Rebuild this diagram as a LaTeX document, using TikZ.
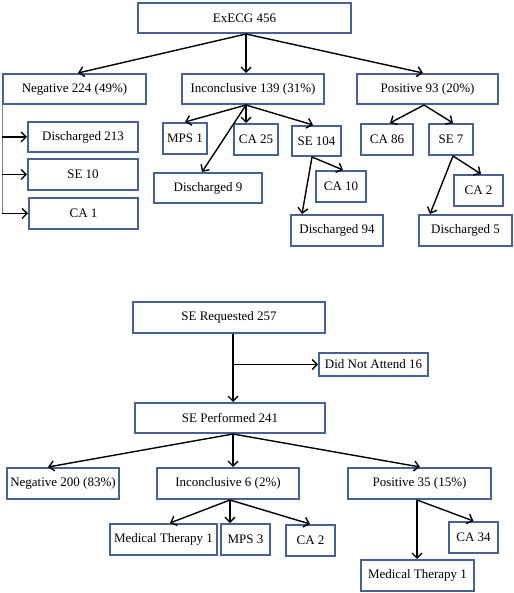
\documentclass[tikz,border=0pt]{standalone}
\usepackage{fontspec}
\setmainfont{Liberation Serif}
\usetikzlibrary{arrows.meta}
\definecolor{boxc}{RGB}{72,96,150}
\tikzset{
  box/.style={draw=boxc, line width=2pt, fill=white, inner sep=0pt,
    font=\fontsize{13}{15}\selectfont},
  arr/.style={draw=black, line width=1.4pt, -{Straight Barb[length=5pt,width=10pt]}},
  vline/.style={draw=gray, line width=0.9pt}
}
\begin{document}
\begin{tikzpicture}[x=1pt,y=-1pt]
\useasboundingbox (0,0) rectangle (513,593);
% ---------- top tree ----------
\node[box, minimum width=213pt, minimum height=30pt] (exe) at (244.5,18) {ExECG 456};
\node[box, minimum width=143pt, minimum height=30pt] (neg) at (74.5,89) {Negative 224 (49\%)};
\node[box, minimum width=142pt, minimum height=30pt] (inc) at (253,89) {Inconclusive 139 (31\%)};
\node[box, minimum width=141pt, minimum height=30pt] (pos) at (427.5,89) {Positive 93 (20\%)};
\node[box, minimum width=110pt, minimum height=30pt] (d213) at (83,137) {Discharged 213};
\node[box, minimum width=110pt, minimum height=31pt] (se10) at (83,174.5) {SE 10};
\node[box, minimum width=109pt, minimum height=31pt] (ca1) at (83.5,213.5) {CA 1};
\node[box, minimum width=44pt, minimum height=31pt] (mps1) at (185,138.5) {MPS 1};
\node[box, minimum width=44pt, minimum height=31pt] (ca25) at (256,139.5) {CA 25};
\node[box, minimum width=108pt, minimum height=30pt] (d9) at (208,188) {Discharged 9};
\node[box, minimum width=49pt, minimum height=30pt] (se104) at (316.5,141) {SE 104};
\node[box, minimum width=50pt, minimum height=31pt] (ca10) at (341,186.5) {CA 10};
\node[box, minimum width=92pt, minimum height=31pt] (d94) at (337,230.5) {Discharged 94};
\node[box, minimum width=52pt, minimum height=31pt] (ca86) at (387,139.5) {CA 86};
\node[box, minimum width=44pt, minimum height=31pt] (se7) at (451,139.5) {SE 7};
\node[box, minimum width=49pt, minimum height=31pt] (ca2a) at (478.5,190.5) {CA 2};
\node[box, minimum width=93pt, minimum height=31pt] (d5) at (465.5,230.5) {Discharged 5};

\coordinate (exeb) at ([xshift=1.5pt]exe.south);
\draw[arr] (exeb) -- ([xshift=3.5pt]neg.north);
\draw[arr] (exeb) -- (exeb |- inc.north);
\draw[arr] (exeb) -- ([xshift=-4.5pt]pos.north);

\draw[vline] (neg.south west) -- (neg.south west |- ca1.west);
\draw[arr] (neg.south west |- d213.west) -- (d213.west);
\draw[arr] (neg.south west |- se10.west) -- (se10.west);
\draw[arr] (neg.south west |- ca1.west) -- (ca1.west);

\coordinate (incb) at ([xshift=-7pt]inc.south);
\draw[arr] (incb) -- (mps1.north);
\draw[arr] (incb) -- (incb |- ca25.north);
\draw[arr] (incb) -- ([xshift=-6pt]d9.north);
\draw[arr] (incb) -- ([xshift=-3.5pt]se104.north);

\coordinate (posb) at ([xshift=-3.5pt]pos.south);
\draw[arr] (posb) -- ([xshift=3pt]ca86.north);
\draw[arr] (posb) -- ([xshift=2pt]se7.north);

\coordinate (se104b) at ([xshift=-4.5pt]se104.south);
\draw[arr] (se104b) -- ([xshift=2pt]ca10.north);
\draw[arr] (se104b) -- ([xshift=-35pt]d94.north);

\coordinate (se7b) at ([xshift=2pt]se7.south);
\draw[arr] (se7b) -- ([xshift=2.5pt]ca2a.north);
\draw[arr] (se7b) -- ([xshift=-35.5pt]d5.north);

% ---------- bottom tree ----------
\node[box, minimum width=192pt, minimum height=31pt] (ser) at (229,317.5) {SE Requested 257};
\node[box, minimum width=109pt, minimum height=23pt] (dna) at (373.5,364.5) {Did Not Attend 16};
\node[box, minimum width=190pt, minimum height=30pt] (sep) at (230,418) {SE Performed 241};
\node[box, minimum width=112pt, minimum height=31pt] (neg2) at (63,483.5) {Negative 200 (83\%)};
\node[box, minimum width=142pt, minimum height=31pt] (inc2) at (228,483.5) {Inconclusive 6 (2\%)};
\node[box, minimum width=143pt, minimum height=31pt] (pos2) at (419.5,483.5) {Positive 35 (15\%)};
\node[box, minimum width=107pt, minimum height=31pt] (mt1) at (163.5,539.5) {Medical Therapy 1};
\node[box, minimum width=49pt, minimum height=31pt] (mps3) at (245.5,539.5) {MPS 3};
\node[box, minimum width=49pt, minimum height=31pt] (ca2b) at (310.5,540.5) {CA 2};
\node[box, minimum width=49pt, minimum height=31pt] (ca34) at (473.5,537.5) {CA 34};
\node[box, minimum width=113pt, minimum height=31pt] (mt2) at (417.5,575.5) {Medical Therapy 1};

\coordinate (serb) at ([xshift=4pt]ser.south);
\draw[arr] (serb) -- (serb |- sep.north);
\draw[arr] (serb |- dna.west) -- (dna.west);

\coordinate (sepb) at ([xshift=3pt]sep.south);
\draw[arr] (sepb) -- ([xshift=-15pt]neg2.north);
\draw[arr] (sepb) -- (sepb |- inc2.north);
\draw[arr] (sepb) -- ([xshift=0.5pt]pos2.north);

\coordinate (inc2b) at ([xshift=2pt]inc2.south);
\draw[arr] (inc2b) -- ([xshift=6.5pt]mt1.north);
\draw[arr] (inc2b) -- (inc2b |- mps3.north);
\draw[arr] (inc2b) -- ([xshift=-0.5pt]ca2b.north);

\coordinate (pos2b) at ([xshift=-2.5pt]pos2.south);
\draw[arr] (pos2b) -- (pos2b |- mt2.north);
\draw[arr] (pos2b) -- (ca34.north);
\end{tikzpicture}
\end{document}
